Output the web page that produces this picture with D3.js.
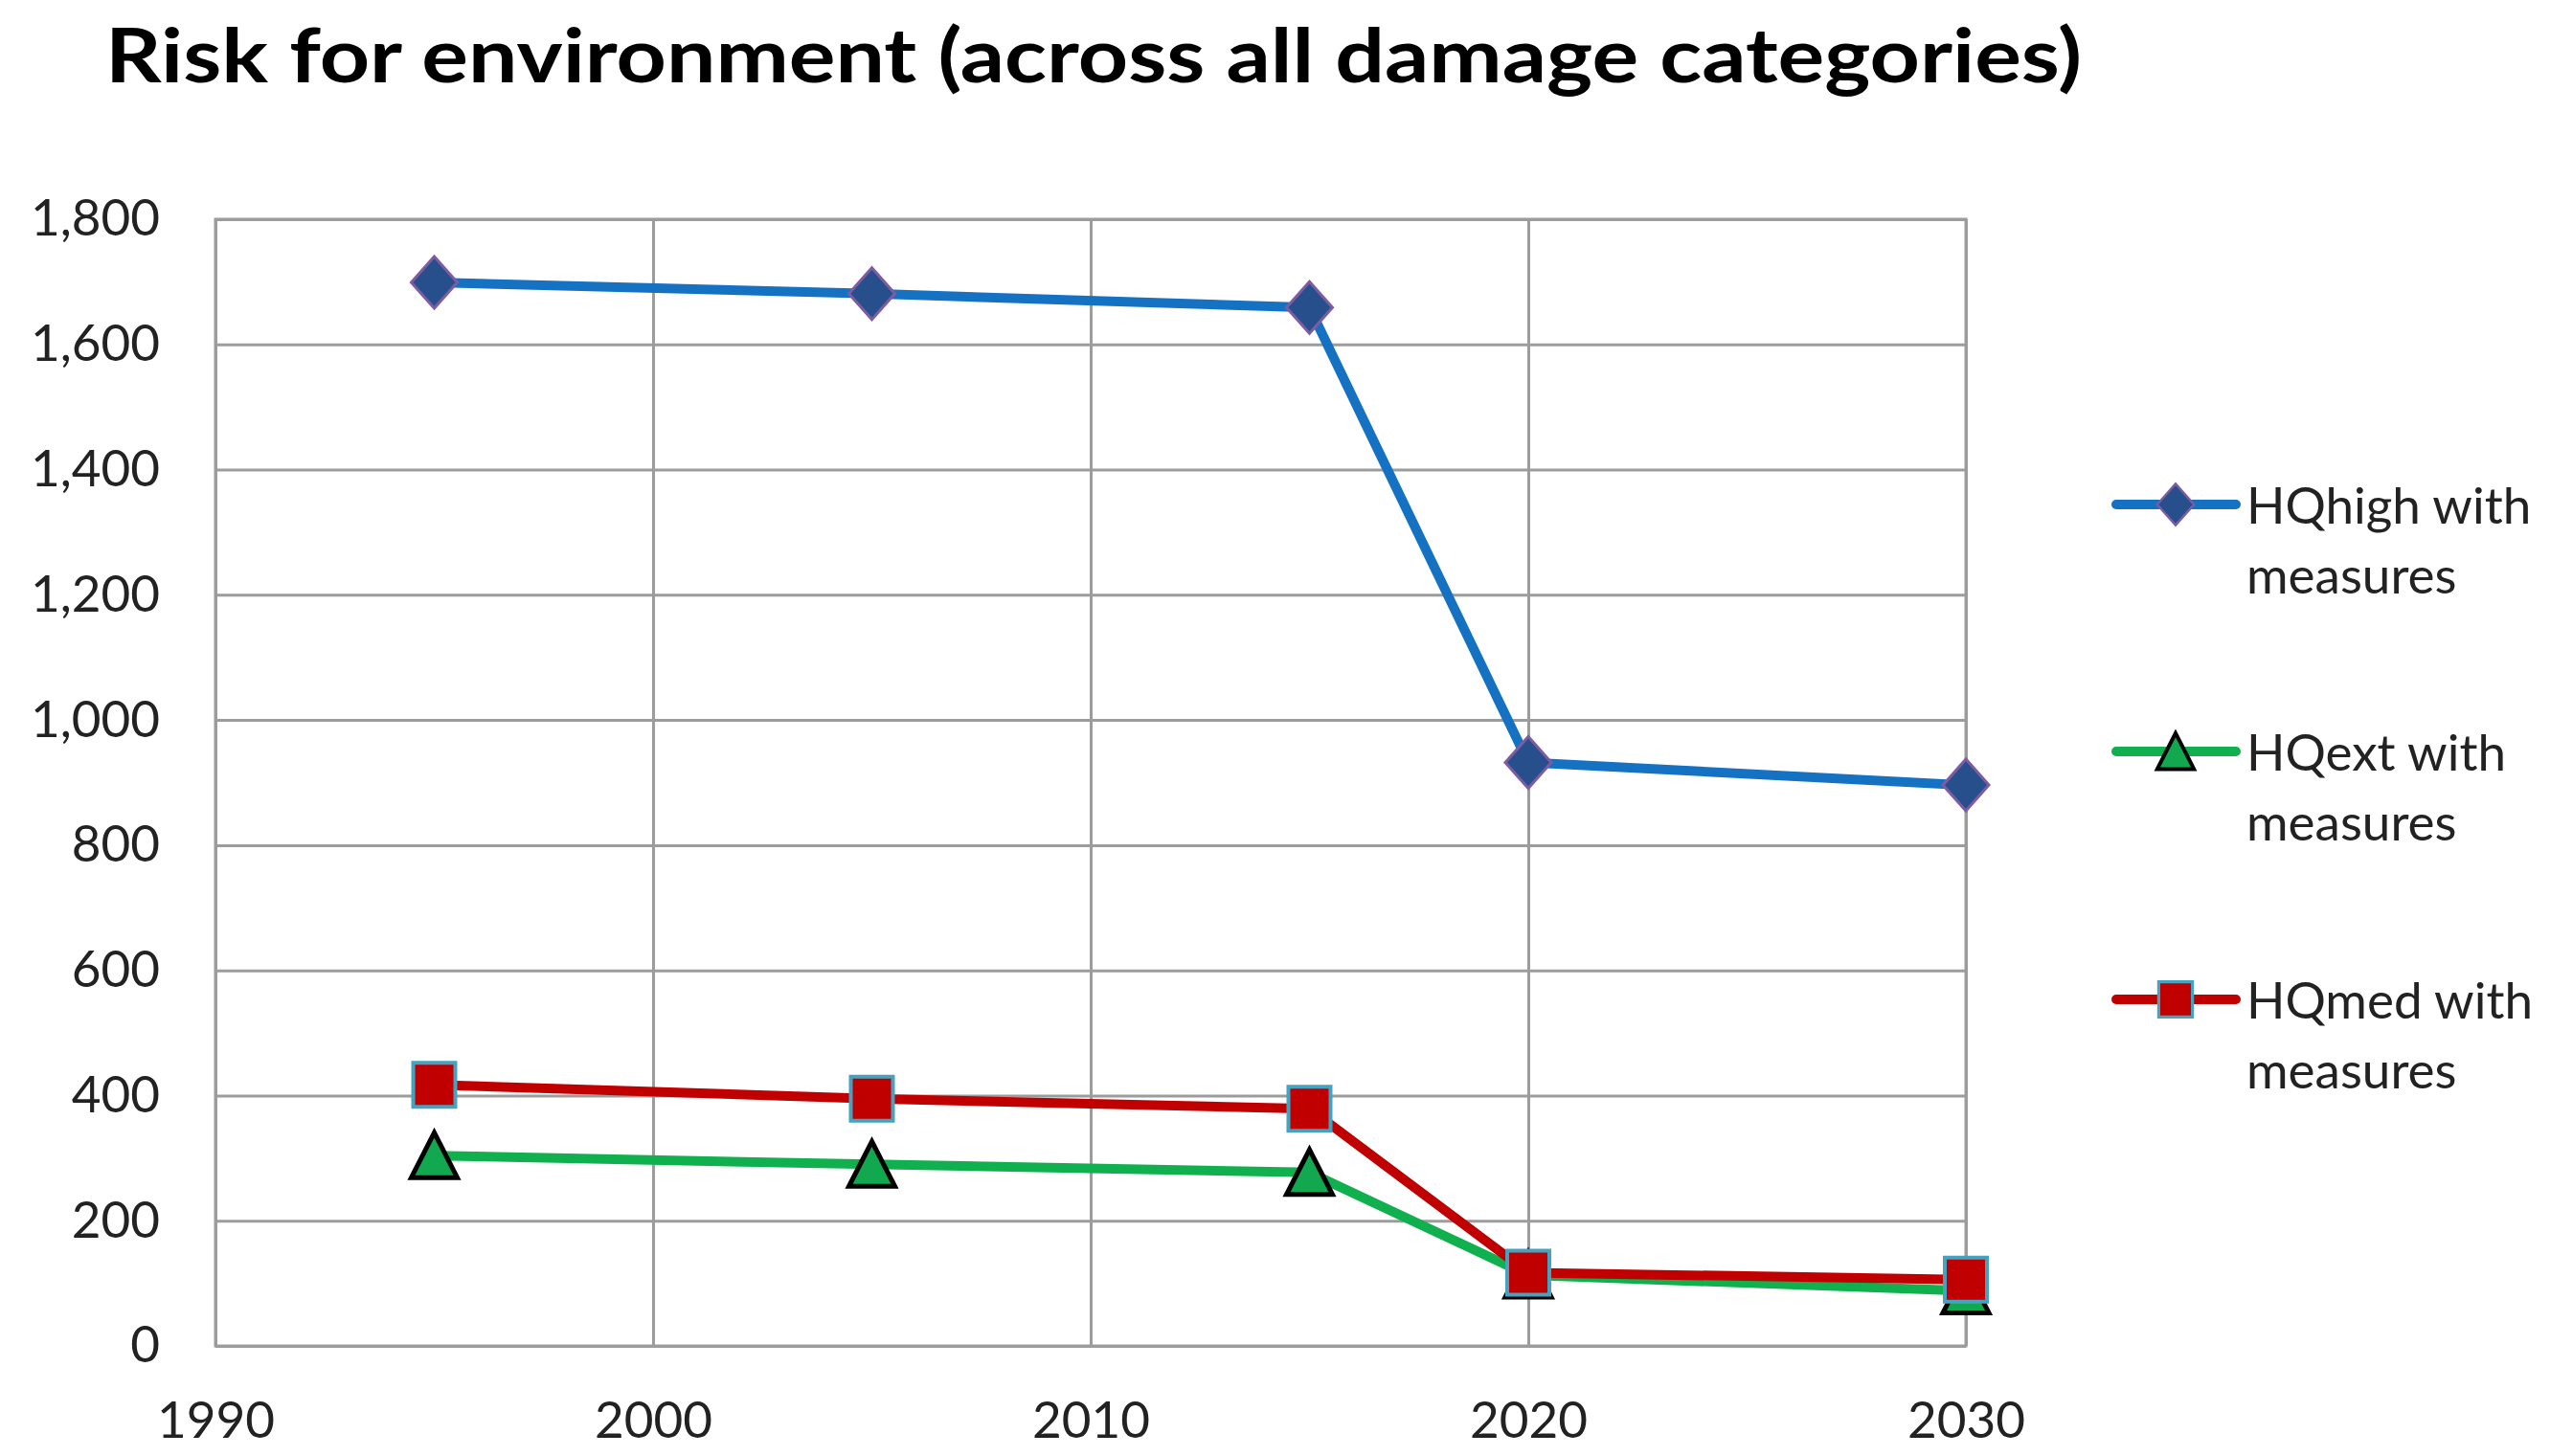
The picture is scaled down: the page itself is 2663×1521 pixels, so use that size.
<!DOCTYPE html>
<meta charset="utf-8">
<head>
  <script src="https://cdn.jsdelivr.net/npm/d3@7"></script>
  <style>
    body { margin: 0; background: #fff; }
    svg { display: block; }
    .tick text { font-family: Lato, "Open Sans", sans-serif; fill: #222; }
    .domain { display: none; }
  </style>
</head>
<body>
<script>

// Datos
var years = [1995, 2005, 2015, 2020, 2030];
var seriesNames = ["HQhigh with measures", "HQext with measures", "HQmed with measures"];
var hqHigh = [1699, 1681, 1659, 932, 896];
var hqExt = [304, 290, 277, 113, 88];
var hqMed = [417, 395, 379, 117, 106];
var xTicks = [1990, 2000, 2010, 2020, 2030];
var yTicks = [0, 200, 400, 600, 800, 1000, 1200, 1400, 1600, 1800];
var titleText = "Risk for environment (across all damage categories)";

var W = 2663, H = 1521;
var margin = {top: 229, right: 610, bottom: 115, left: 225};
var w = W - margin.left - margin.right,
    h = H - margin.top - margin.bottom;

var svg = d3.select("body").append("svg")
  .attr("width", W)
  .attr("height", H);

// Titulo
svg.append("text")
  .attr("x", 110)
  .attr("y", 86)
  .attr("textLength", 2064)
  .attr("lengthAdjust", "spacingAndGlyphs")
  .style("font-family", "Lato, sans-serif")
  .style("font-weight", "bold")
  .style("font-size", "78px")
  .style("fill", "#000")
  .text(titleText);

var g = svg.append("g").attr("transform", "translate(" + margin.left + "," + margin.top + ")");

var xScale = d3.scaleLinear().domain([1990, 2030]).range([0, w]);
var yScale = d3.scaleLinear().domain([0, 1800]).range([h, 0]);

// Rejilla
g.append("g")
  .attr("transform", "translate(0," + h + ")")
  .call(d3.axisBottom(xScale).tickValues(xTicks).tickSize(-h).tickFormat(d3.format("d")).tickPadding(58))
  .call(function(a) {
    a.selectAll("line").attr("stroke", "#9c9c9c").attr("stroke-width", 3);
    a.selectAll("text").style("font-size", "53px");
  });

g.append("g")
  .call(d3.axisLeft(yScale).tickValues(yTicks).tickSize(-w).tickFormat(d3.format(",")).tickPadding(58))
  .call(function(a) {
    a.selectAll("line").attr("stroke", "#9c9c9c").attr("stroke-width", 3);
    a.selectAll("text").style("font-size", "53px");
  });

// Borde del area de trazado
g.append("rect")
  .attr("width", w).attr("height", h)
  .attr("fill", "none").attr("stroke", "#9c9c9c").attr("stroke-width", 3);

// Marcadores
var shapes = {
  diamond: "M0,-27L24,0L0,27L-24,0Z",
  triangle: "M0,-24L24,23L-24,23Z",
  square: "M-22,-23H22V23H-22Z"
};

var series = [
  {name: seriesNames[0], values: hqHigh, line: "#1571c2", fill: "#264f8c", stroke: "#7d5ca3", sw: 3, shape: "diamond"},
  {name: seriesNames[1], values: hqExt, line: "#10b04e", fill: "#12a850", stroke: "#000", sw: 5, shape: "triangle"},
  {name: seriesNames[2], values: hqMed, line: "#c00000", fill: "#c00000", stroke: "#45a3bf", sw: 4, shape: "square"}
];

var line = d3.line()
  .x(function(d, i) { return xScale(years[i]); })
  .y(function(d) { return yScale(d); });

series.forEach(function(s) {
  g.append("path")
    .datum(s.values)
    .attr("d", line)
    .attr("fill", "none")
    .attr("stroke", s.line)
    .attr("stroke-width", 10)
    .attr("stroke-linejoin", "round");

  g.selectAll(null)
    .data(s.values)
    .enter()
    .append("path")
    .attr("d", shapes[s.shape])
    .attr("transform", function(d, i) { return "translate(" + xScale(years[i]) + "," + yScale(d) + ")"; })
    .attr("fill", s.fill)
    .attr("stroke", s.stroke)
    .attr("stroke-width", s.sw);
});

// Leyenda
var legend = svg.append("g").attr("transform", "translate(2210,0)");
var legendY = [527, 785, 1044];

series.forEach(function(s, i) {
  var lg = legend.append("g").attr("transform", "translate(0," + legendY[i] + ")");
  lg.append("line")
    .attr("x1", 0).attr("x2", 125)
    .attr("stroke", s.line).attr("stroke-width", 10).attr("stroke-linecap", "round");
  lg.append("path")
    .attr("d", shapes[s.shape])
    .attr("transform", "translate(62,0) scale(0.8)")
    .attr("fill", s.fill).attr("stroke", s.stroke).attr("stroke-width", s.sw);
  var words = s.name.split(" ");
  var t = lg.append("text")
    .attr("x", 136).attr("y", 20)
    .style("font-family", "Lato, sans-serif")
    .style("font-size", "53px")
    .style("fill", "#222");
  t.append("tspan").attr("x", 136).text(words[0] + " " + words[1]);
  t.append("tspan").attr("x", 136).attr("dy", 73).text(words[2]);
});

</script>
</body>
